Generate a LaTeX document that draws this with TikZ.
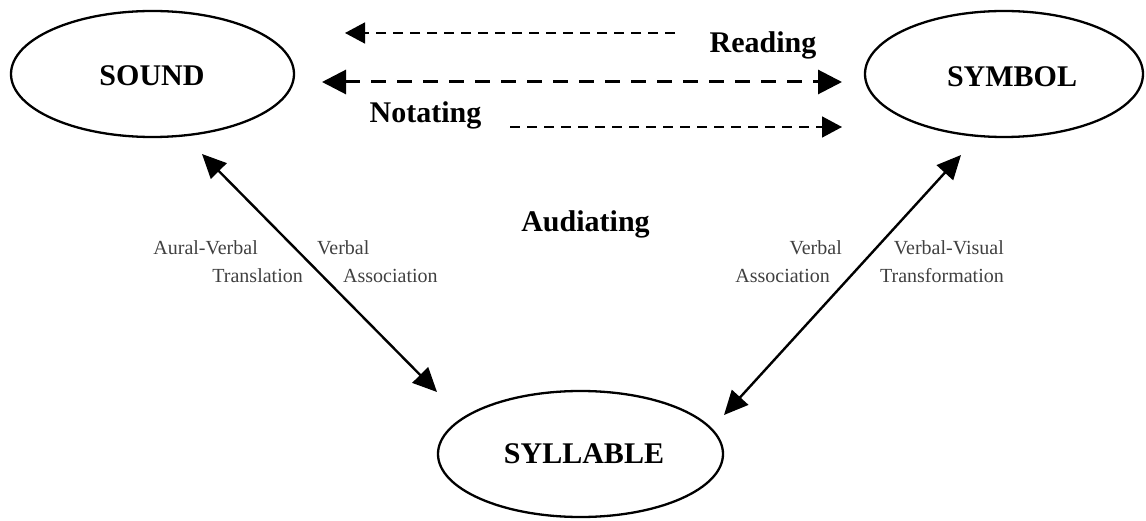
\documentclass[tikz,border=0pt]{standalone}
\usepackage{fontspec}
\setmainfont{Liberation Serif}
\usetikzlibrary{shapes.geometric,arrows.meta}
\begin{document}
\begin{tikzpicture}[x=1pt,y=-1pt,
  bubble/.style={draw, ellipse, line width=2.3pt, inner sep=0pt, minimum width=283pt, minimum height=126pt},
  bigtext/.style={font=\fontsize{30}{30}\selectfont\bfseries, inner sep=0pt, anchor=base},
  smalltext/.style={font=\fontsize{20}{20}\selectfont, text=black!75, inner sep=0pt, anchor=base},
  solidarrow/.style={line width=2.4pt, {Triangle[length=24pt,width=22pt]}-{Triangle[length=24pt,width=22pt]}},
  thindash/.style={line width=1.6pt, dash pattern=on 10pt off 7pt, -{Triangle[length=20pt,width=21pt]}},
  thickdash/.style={line width=3pt, dash pattern=on 15pt off 11pt, {Triangle[length=24pt,width=24pt]}-{Triangle[length=24pt,width=24pt]}},
]
\useasboundingbox (0,0) rectangle (1146,521);

\node[bubble] (sound) at (152.5,74) {};
\node[bubble, minimum width=278pt] (symbol) at (1004,74) {};
\node[bubble, minimum width=285pt] (syllable) at (580.5,454) {};

\node[bigtext] (soundtxt) at (152,86) {SOUND};
\node[bigtext] (symboltxt) at (1012,87) {SYMBOL};
\node[bigtext] (syllabletxt) at (584,463) {SYLLABLE};
\node[bigtext] (reading) at (763,53) {Reading};
\node[bigtext] (notating) at (425.5,123) {Notating};
\node[bigtext] (audiating) at (585.5,232) {Audiating};

\node[smalltext, anchor=base east] (l1) at (258,255) {Aural-Verbal};
\node[smalltext, anchor=base east] (l2) at (303,283) {Translation};
\node[smalltext, anchor=base west] (l3) at (317,255) {Verbal};
\node[smalltext, anchor=base west] (l4) at (343,283) {Association};
\node[smalltext, anchor=base east] (r1) at (842,255) {Verbal};
\node[smalltext, anchor=base east] (r2) at (830,283) {Association};
\node[smalltext, anchor=base east] (r3) at (1004,255) {Verbal-Visual};
\node[smalltext, anchor=base east] (r4) at (1004,283) {Transformation};

\coordinate (rdS) at (675,33); \coordinate (rdE) at (345,33);
\coordinate (mdL) at (322,82); \coordinate (mdR) at (842,82);
\coordinate (ndS) at (510,127); \coordinate (ndE) at (842,127);
\coordinate (lt) at (202,154); \coordinate (lb) at (437,392);
\coordinate (rt) at (961,155); \coordinate (rb) at (724,415);

\draw[thindash] (rdS) -- (rdE);
\draw[thickdash] (mdL) -- (mdR);
\draw[thindash] (ndS) -- (ndE);
\draw[solidarrow] (lt) -- (lb);
\draw[solidarrow] (rt) -- (rb);
\end{tikzpicture}
\end{document}
